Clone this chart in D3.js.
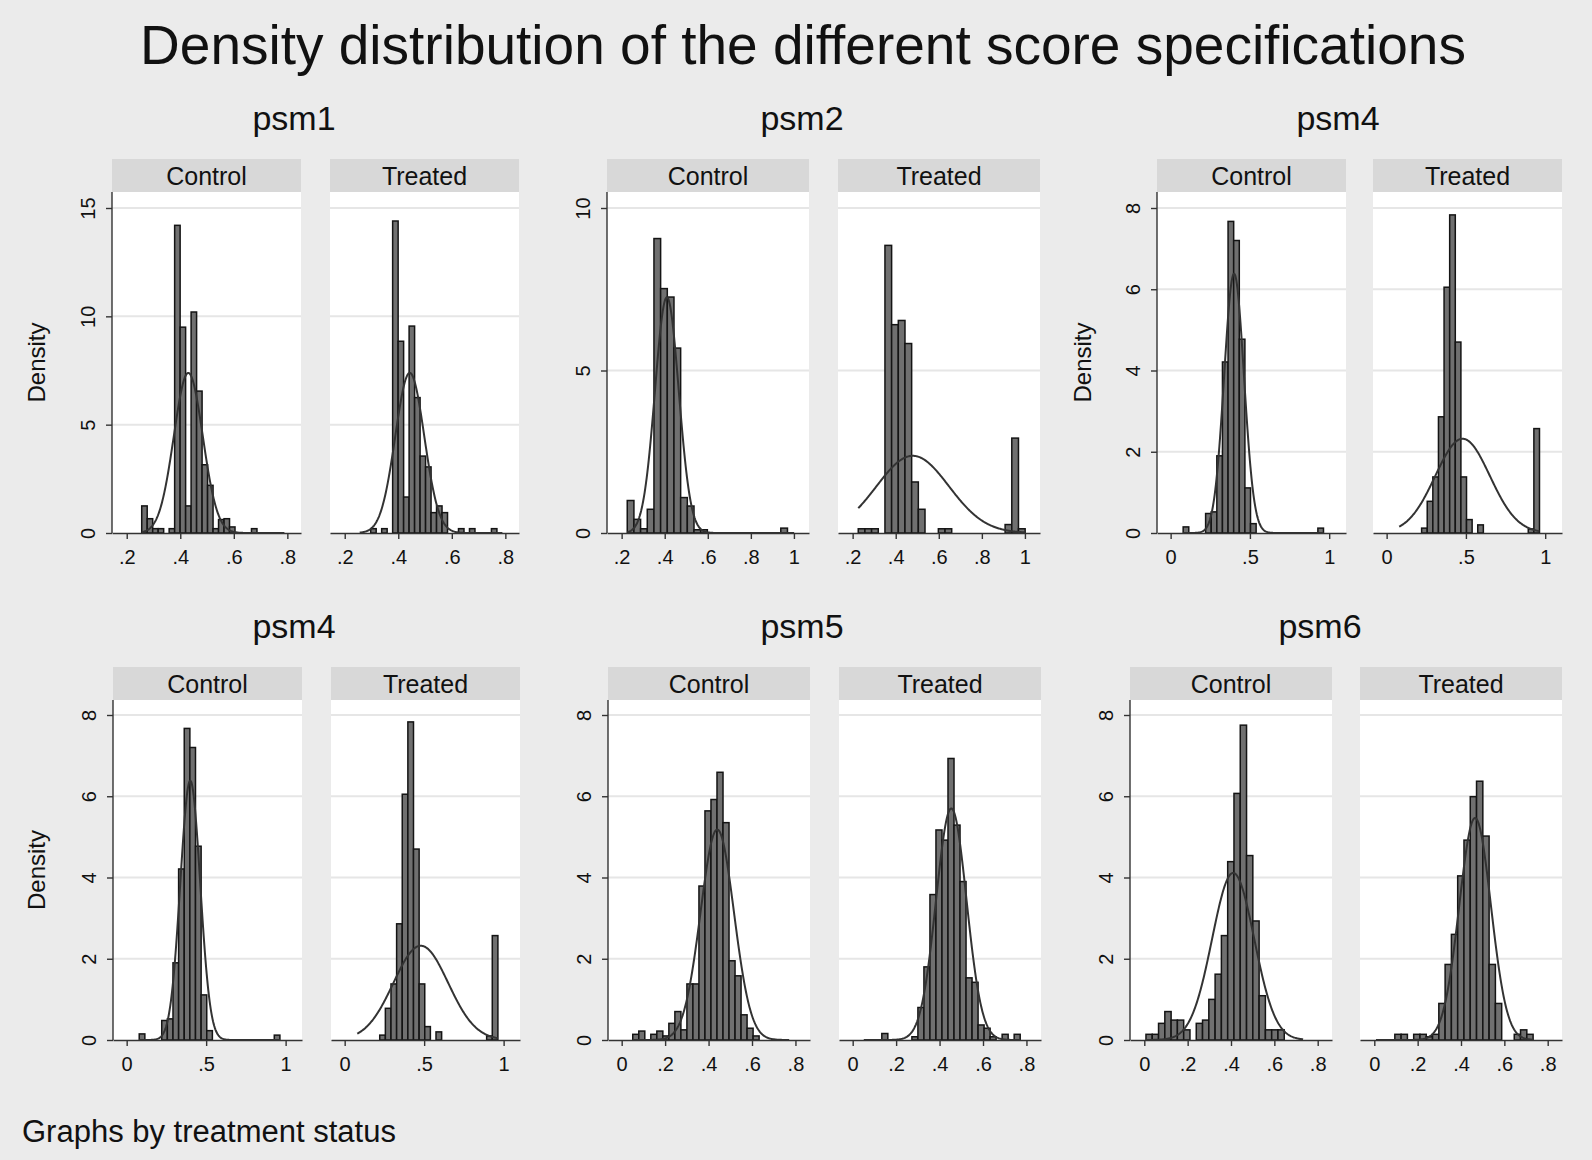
<!DOCTYPE html>
<html>
<head>
<meta charset="utf-8">
<script src="https://cdn.jsdelivr.net/npm/d3@7"></script>
<style>
	body { margin: 0; background: #ebebeb; }
	svg { display: block; font-family: "Liberation Sans", Arial, Helvetica, sans-serif; }
</style>
</head>
<body>
<svg id="chart"></svg>
<script>
// panel names and the two groups of each panel
var panelTitles = ["psm1", "psm2", "psm4", "psm4", "psm5", "psm6"];
var groupNames = ["Control", "Treated"];

// histogram bins (start, width) per panel
var binStart = [0.256, 0.226, 0.079, 0.079, 0.051, 0.0077];
var binWidth = [0.0205, 0.031, 0.0354, 0.0354, 0.0277, 0.029];

// bar heights (density)
var psm1Control = [1.25, 0.66, 0.2, 0.2, 0, 0.2, 14.2, 9.5, 1.25, 10.2, 6.55, 3.15, 2.2, 0.2, 0.62, 0.66, 0.28, 0, 0, 0, 0.2, 0, 0, 0, 0, 0];
var psm1Treated = [0, 0, 0.2, 0, 0.2, 0, 14.4, 8.85, 1.66, 9.55, 6.25, 3.55, 3.05, 0.94, 1.25, 0.94, 0, 0, 0.2, 0, 0.2, 0, 0, 0, 0.2, 0];
var psm2Control = [1.0, 0.42, 0.13, 0.73, 9.06, 7.52, 7.26, 5.69, 1.09, 0.83, 0.1, 0.1, 0, 0, 0, 0, 0, 0, 0, 0, 0, 0, 0, 0.15, 0];
var psm2Treated = [0.13, 0.13, 0.13, 0, 8.85, 6.41, 6.54, 5.83, 1.57, 0.73, 0, 0, 0.13, 0.13, 0, 0, 0, 0, 0, 0, 0, 0, 0.26, 2.92, 0.13];
var psm4Control = [0.15, 0, 0, 0, 0.48, 0.52, 1.9, 4.21, 7.67, 7.2, 4.77, 1.11, 0.23, 0, 0, 0, 0, 0, 0, 0, 0, 0, 0, 0, 0.12];
var psm4Treated = [0, 0, 0, 0, 0.12, 0.78, 1.38, 2.86, 6.05, 7.83, 4.7, 1.38, 0.33, 0, 0.2, 0, 0, 0, 0, 0, 0, 0, 0, 0.1, 2.57];
var psm5Control = [0.14, 0.22, 0, 0.14, 0.22, 0.1, 0.41, 0.7, 0.25, 1.38, 1.38, 3.79, 5.64, 5.92, 6.59, 5.35, 1.95, 1.58, 0.62, 0.29, 0.1, 0, 0, 0, 0, 0];
var psm5Treated = [0, 0, 0, 0.16, 0, 0, 0, 0, 0.08, 0.8, 1.8, 3.58, 5.17, 4.92, 6.93, 5.29, 3.9, 1.53, 1.42, 0.37, 0.29, 0.08, 0, 0.14, 0, 0.14];
var psm6Control = [0.14, 0.14, 0.41, 0.7, 0.49, 0.49, 0.25, 0, 0.41, 0.49, 1.0, 1.62, 2.57, 4.39, 6.07, 7.75, 4.54, 2.93, 1.09, 0.25, 0.25, 0.25, 0, 0, 0];
var psm6Treated = [0, 0, 0, 0.14, 0.14, 0, 0.14, 0.14, 0.08, 0.14, 0.9, 1.86, 2.6, 4.04, 4.92, 5.99, 6.37, 5.02, 1.86, 0.9, 0, 0, 0.14, 0.25, 0.14];

var densities = [
	[psm1Control, psm1Treated],
	[psm2Control, psm2Treated],
	[psm4Control, psm4Treated],
	[psm4Control, psm4Treated],
	[psm5Control, psm5Treated],
	[psm6Control, psm6Treated]
];

// fitted normal curves: [control, treated]
var normalMean = [[0.430, 0.443], [0.410, 0.479], [0.400, 0.479], [0.400, 0.479], [0.440, 0.454], [0.410, 0.465]];
var normalSd = [[0.054, 0.054], [0.055, 0.168], [0.0625, 0.172], [0.0625, 0.172], [0.077, 0.070], [0.097, 0.073]];

// axis ticks
var xTicks = [[0.2, 0.4, 0.6, 0.8], [0.2, 0.4, 0.6, 0.8, 1], [0, 0.5, 1], [0, 0.5, 1], [0, 0.2, 0.4, 0.6, 0.8], [0, 0.2, 0.4, 0.6, 0.8]];
var yTicks = [[0, 5, 10, 15], [0, 5, 10], [0, 2, 4, 6, 8], [0, 2, 4, 6, 8], [0, 2, 4, 6, 8], [0, 2, 4, 6, 8]];

// layout of the six panels
var rows = [
	{stripTop: 159, plotTop: 192, y0: 533, yTop: 208, titleY: 130},
	{stripTop: 667, plotTop: 700, y0: 1040, yTop: 715, titleY: 638}
];
var layout = [
	{row: 0, left: 112, width: 189, step: 218, dom: [0.145, 0.851], titleX: 294, dens: 45},
	{row: 0, left: 607, width: 202, step: 231, dom: [0.132, 1.070], titleX: 802, dens: null},
	{row: 0, left: 1157, width: 189, step: 216, dom: [-0.086, 1.106], titleX: 1338, dens: 1091},
	{row: 1, left: 113, width: 189, step: 218, dom: [-0.086, 1.103], titleX: 294, dens: 45},
	{row: 1, left: 608, width: 202, step: 231, dom: [-0.063, 0.867], titleX: 802, dens: null},
	{row: 1, left: 1130, width: 202, step: 230, dom: [-0.066, 0.866], titleX: 1320, dens: null}
];

var barFill = "#707070", barLine = "#141414", curveColor = "#333";
var gridColor = "#e6e6e6", stripColor = "#d8d8d8", axisColor = "#333";

function fmt(v) {
	return String(v).replace(/^0\./, ".");
}

function normalPdf(v, m, s) {
	var z = (v - m) / s;
	return Math.exp(-0.5 * z * z) / (s * Math.sqrt(2 * Math.PI));
}

var svg = d3.select("#chart")
	.attr("width", 1592)
	.attr("height", 1160);

svg.append("rect")
	.attr("width", 1592)
	.attr("height", 1160)
	.attr("fill", "#ebebeb");

svg.append("text")
	.attr("x", 803)
	.attr("y", 64)
	.attr("text-anchor", "middle")
	.style("font-size", "55px")
	.style("fill", "#111")
	.text("Density distribution of the different score specifications");

svg.append("text")
	.attr("x", 22)
	.attr("y", 1142)
	.style("font-size", "31px")
	.style("fill", "#111")
	.text("Graphs by treatment status");

layout.forEach(function (p, i) {
	var r = rows[p.row];

	svg.append("text")
		.attr("x", p.titleX)
		.attr("y", r.titleY)
		.attr("text-anchor", "middle")
		.style("font-size", "34px")
		.style("fill", "#111")
		.text(panelTitles[i]);

	var y = d3.scaleLinear()
		.domain([0, d3.max(yTicks[i])])
		.range([r.y0, r.yTop]);

	if (p.dens !== null) {
		svg.append("text")
			.attr("transform", "translate(" + p.dens + "," + ((r.plotTop + r.y0) / 2) + ") rotate(-90)")
			.attr("text-anchor", "middle")
			.style("font-size", "24px")
			.style("fill", "#111")
			.text("Density");
	}

	groupNames.forEach(function (gName, j) {
		var left = p.left + j * p.step;
		var x = d3.scaleLinear()
			.domain(p.dom)
			.range([left, left + p.width]);
		var g = svg.append("g");

		// strip with group name
		g.append("rect")
			.attr("x", left)
			.attr("y", r.stripTop)
			.attr("width", p.width)
			.attr("height", r.plotTop - r.stripTop)
			.attr("fill", stripColor);
		g.append("text")
			.attr("x", left + p.width / 2)
			.attr("y", r.stripTop + 26)
			.attr("text-anchor", "middle")
			.style("font-size", "25px")
			.style("fill", "#111")
			.text(gName);

		// plot region
		g.append("rect")
			.attr("x", left)
			.attr("y", r.plotTop)
			.attr("width", p.width)
			.attr("height", r.y0 - r.plotTop)
			.attr("fill", "#fff");

		g.selectAll("line.grid")
			.data(yTicks[i].filter(function (v) { return v > 0; }))
			.enter()
			.append("line")
			.attr("class", "grid")
			.attr("x1", left)
			.attr("x2", left + p.width)
			.attr("y1", function (v) { return y(v); })
			.attr("y2", function (v) { return y(v); })
			.attr("stroke", gridColor)
			.attr("stroke-width", 2);

		// histogram bars
		var bins = densities[i][j].map(function (h, k) {
			return {x0: binStart[i] + k * binWidth[i], x1: binStart[i] + (k + 1) * binWidth[i], h: h};
		}).filter(function (d) { return d.h > 0; });

		g.selectAll("rect.bar")
			.data(bins)
			.enter()
			.append("rect")
			.attr("class", "bar")
			.attr("x", function (d) { return x(d.x0); })
			.attr("width", function (d) { return x(d.x1) - x(d.x0); })
			.attr("y", function (d) { return y(d.h); })
			.attr("height", function (d) { return y(0) - y(d.h); })
			.attr("fill", barFill)
			.attr("stroke", barLine)
			.attr("stroke-width", 1.5);

		// normal density over the data range
		var lo = binStart[i];
		var hi = binStart[i] + densities[i][j].length * binWidth[i];
		var m = normalMean[i][j], s = normalSd[i][j];
		var pts = d3.range(0, 241).map(function (t) {
			var v = lo + (hi - lo) * t / 240;
			return [v, normalPdf(v, m, s)];
		});
		g.append("path")
			.datum(pts)
			.attr("fill", "none")
			.attr("stroke", curveColor)
			.attr("stroke-width", 2)
			.attr("d", d3.line()
				.x(function (d) { return x(d[0]); })
				.y(function (d) { return y(d[1]); }));

		// x axis
		var xa = g.append("g")
			.attr("transform", "translate(0," + r.y0 + ")")
			.call(d3.axisBottom(x)
				.tickValues(xTicks[i])
				.tickFormat(fmt)
				.tickSizeInner(6)
				.tickSizeOuter(0)
				.tickPadding(11));
		xa.attr("font-size", null).attr("font-family", null);
		xa.select(".domain").attr("stroke", axisColor).attr("stroke-width", 1.4);
		xa.selectAll(".tick line").attr("stroke", axisColor).attr("stroke-width", 1.4);
		xa.selectAll(".tick text").style("font-size", "20px").style("fill", "#111");

		// y axis only on the control side
		if (j === 0) {
			g.append("line")
				.attr("x1", left)
				.attr("x2", left)
				.attr("y1", r.plotTop)
				.attr("y2", r.y0)
				.attr("stroke", axisColor)
				.attr("stroke-width", 1.4);
			var ya = g.append("g")
				.attr("transform", "translate(" + left + ",0)")
				.call(d3.axisLeft(y)
					.tickValues(yTicks[i])
					.tickSizeInner(6)
					.tickSizeOuter(0));
			ya.attr("font-size", null).attr("font-family", null);
			ya.select(".domain").remove();
			ya.selectAll(".tick line").attr("stroke", axisColor).attr("stroke-width", 1.4);
			ya.selectAll(".tick text")
				.attr("x", 0)
				.attr("y", -17)
				.attr("dy", null)
				.attr("transform", "rotate(-90)")
				.attr("text-anchor", "middle")
				.style("font-size", "20px")
				.style("fill", "#111");
		}
	});
});
</script>
</body>
</html>
